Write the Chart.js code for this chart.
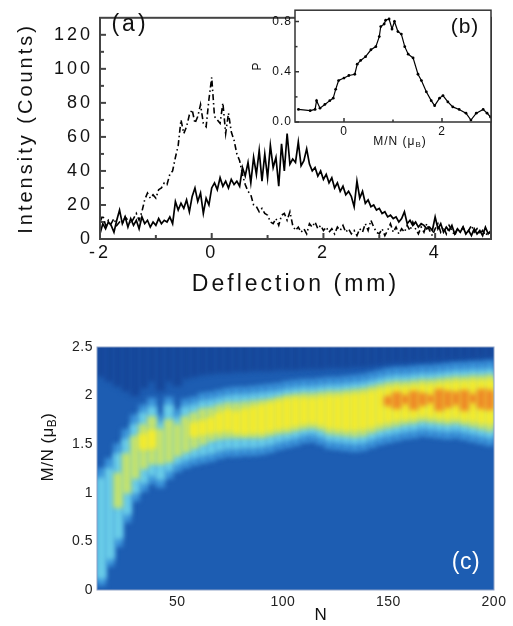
<!DOCTYPE html>
<html>
<head>
<meta charset="utf-8">
<script src="https://cdn.jsdelivr.net/npm/chart.js@4.4.1/dist/chart.umd.min.js"></script>
<style>
    body { margin: 0; background: #fff; width: 513px; height: 626px; position: relative; overflow: hidden; }
    canvas { position: absolute; }
    #panelA { left: 0; top: 0; width: 513px; height: 300px; }
    #panelB { left: 250px; top: 0; width: 263px; height: 155px; }
    #panelC { left: 0; top: 320px; width: 513px; height: 306px; }
</style>
</head>
<body>
<canvas id="panelA" width="513" height="300"></canvas>
<canvas id="panelB" width="263" height="155"></canvas>
<canvas id="panelC" width="513" height="306"></canvas>
<script>
// ---- panel (a): deflection profiles ----
const deflection = [
    -2, -1.95, -1.9, -1.85, -1.8, -1.75, -1.7, -1.65, -1.6, -1.55,
    -1.5, -1.45, -1.4, -1.35, -1.3, -1.25, -1.2, -1.15, -1.1, -1.05,
    -1, -0.95, -0.9, -0.85, -0.8, -0.75, -0.7, -0.65, -0.6, -0.55,
    -0.5, -0.45, -0.4, -0.35, -0.3, -0.25, -0.2, -0.15, -0.1, -0.05,
    0, 0.05, 0.1, 0.15, 0.2, 0.25, 0.3, 0.35, 0.4, 0.45,
    0.5, 0.55, 0.6, 0.65, 0.7, 0.75, 0.8, 0.85, 0.9, 0.95,
    1, 1.05, 1.1, 1.15, 1.2, 1.25, 1.3, 1.35, 1.4, 1.45,
    1.5, 1.55, 1.6, 1.65, 1.7, 1.75, 1.8, 1.85, 1.9, 1.95,
    2, 2.05, 2.1, 2.15, 2.2, 2.25, 2.3, 2.35, 2.4, 2.45,
    2.5, 2.55, 2.6, 2.65, 2.7, 2.75, 2.8, 2.85, 2.9, 2.95,
    3, 3.05, 3.1, 3.15, 3.2, 3.25, 3.3, 3.35, 3.4, 3.45,
    3.5, 3.55, 3.6, 3.65, 3.7, 3.75, 3.8, 3.85, 3.9, 3.95,
    4, 4.05, 4.1, 4.15, 4.2, 4.25, 4.3, 4.35, 4.4, 4.45,
    4.5, 4.55, 4.6, 4.65, 4.7, 4.75, 4.8, 4.85, 4.9, 4.95,
    5
];
const countsSolid = [
    3, 9, 6, 10, 8, 4, 11, 17, 9, 13,
    7, 12, 8, 11, 6, 13, 9, 11, 7, 10,
    8, 12, 9, 11, 10, 13, 9, 22, 17, 21,
    18, 23, 16, 25, 30, 22, 27, 15, 24, 20,
    30, 33, 29, 36, 31, 34, 30, 35, 32, 34,
    31, 42, 37, 45, 33, 48, 38, 52, 34, 50,
    36, 55, 42, 48, 31, 56, 40, 62, 44, 47,
    45, 57, 43, 46, 53, 44, 40, 42, 37, 40,
    35, 38, 33, 36, 30, 33, 28, 31, 26, 28,
    25, 19, 34, 24, 28, 21, 23, 19, 20, 17,
    18, 15, 16, 13, 14, 12, 13, 10, 12, 16,
    9, 11, 8, 10, 7, 9, 8, 6, 7, 5,
    13, 6, 9, 4, 7, 5, 8, 3, 6, 4,
    7, 3, 5, 2, 6, 3, 5, 2, 7, 3,
    5
];
const countsDashed = [
    10, 14, 8, 11, 9, 12, 8, 10, 9, 13,
    11, 9, 12, 15, 11, 16, 23, 27, 24, 26,
    24, 29, 30, 33, 32, 38, 40, 48, 55, 70,
    62, 66, 73, 76, 68, 72, 79, 68, 66, 82,
    95, 72, 70, 68, 80, 62, 74, 63, 58, 50,
    46, 38, 32, 28, 26, 20, 19, 16, 18, 15,
    14, 10, 9, 12, 8, 14, 15, 11, 16, 8,
    5, 7, 4, 6, 3, 9, 7, 10, 6, 8,
    5, 7, 4, 6, 3, 7, 5, 8, 4, 6,
    3, 5, 2, 6, 4, 9, 5, 11, 7, 4,
    3, 6, 2, 5, 9, 4, 7, 3, 6, 4,
    8, 5, 10, 6, 3, 7, 4, 9, 5, 2,
    6, 9, 4, 7, 3, 8, 5, 2, 6, 4,
    7, 3, 5, 8, 4, 6, 3, 5, 2, 4,
    3
];
const ticksA_x = [-2, 0, 2, 4];
const minorA_x = [-1, 1, 3];
const ticksA_y = [0, 20, 40, 60, 80, 100, 120];
const minorA_y = [10, 30, 50, 70, 90, 110];

// ---- panel (b): inset distribution ----
const insetMN = [
    -0.93, -0.69, -0.59, -0.56, -0.49, -0.39, -0.29, -0.22, -0.17, -0.11,
    0, 0.1, 0.22, 0.27, 0.34, 0.44, 0.55, 0.65, 0.72, 0.75,
    0.82, 0.85, 0.92, 0.98, 1.03, 1.1, 1.17, 1.24, 1.31, 1.41,
    1.51, 1.58, 1.68, 1.78, 1.85, 1.95, 2.02, 2.12, 2.22, 2.35,
    2.49, 2.59, 2.7, 2.84, 2.92, 2.99
];
const insetP = [
    0.1, 0.09, 0.1, 0.17, 0.11, 0.14, 0.17, 0.19, 0.26, 0.33,
    0.35, 0.37, 0.38, 0.46, 0.49, 0.52, 0.575, 0.6, 0.68, 0.76,
    0.78, 0.81, 0.82, 0.74, 0.8, 0.72, 0.7, 0.6, 0.54, 0.51,
    0.38, 0.33, 0.24, 0.17, 0.13, 0.19, 0.21, 0.16, 0.12, 0.1,
    0.07, 0.015, 0.07, 0.1, 0.07, 0.04
];
const ticksB_x = [0, 2];
const minorB_x = [1];
const ticksB_y = [0, 0.4, 0.8];
const minorB_y = [0.2, 0.6];

// ---- panel (c): M/N map vs N, read as colour band edges per column ----
const heatN = [
    14, 18, 22, 26, 30, 34, 38, 42, 46, 50,
    54, 58, 62, 66, 70, 74, 78, 82, 86, 90,
    94, 98, 102, 106, 110, 114, 118, 122, 126, 130,
    134, 138, 142, 146, 150, 154, 158, 162, 166, 170,
    174, 178, 182, 186, 190, 194, 198
];
const navyLo = [
    2.2, 2.15, 2.1, 2.05, 2.0, 2.08, 2.15, 2.05, 2.15, 2.1,
    2.18, 2.2, 2.22, 2.23, 2.24, 2.24, 2.25, 2.25, 2.26, 2.26,
    2.26, 2.27, 2.27, 2.27, 2.28, 2.28, 2.28, 2.29, 2.29, 2.29,
    2.3, 2.3, 2.31, 2.32, 2.33, 2.34, 2.34, 2.35, 2.35, 2.36,
    2.36, 2.37, 2.37, 2.38, 2.38, 2.39, 2.39
];
const blueLo = [
    0.05, 0.25, 0.45, 0.7, 0.92, 1.02, 1.1, 1.06, 1.15, 1.22,
    1.26, 1.29, 1.31, 1.33, 1.36, 1.38, 1.38, 1.39, 1.39, 1.4,
    1.42, 1.45, 1.47, 1.49, 1.52, 1.53, 1.5, 1.46, 1.45, 1.44,
    1.43, 1.44, 1.47, 1.5, 1.52, 1.54, 1.56, 1.57, 1.59, 1.58,
    1.57, 1.56, 1.57, 1.55, 1.53, 1.51, 1.49
];
const blueHi = [
    1.25, 1.35, 1.5, 1.65, 1.8, 1.9, 1.97, 1.8, 1.98, 1.85,
    1.96, 1.98, 2.02, 2.03, 2.05, 2.07, 2.08, 2.08, 2.09, 2.1,
    2.11, 2.12, 2.14, 2.15, 2.16, 2.16, 2.17, 2.18, 2.18, 2.19,
    2.2, 2.21, 2.23, 2.25, 2.27, 2.28, 2.28, 2.29, 2.3, 2.3,
    2.31, 2.32, 2.33, 2.33, 2.34, 2.34, 2.35
];
const cyanLo = [
    0.12, 0.32, 0.53, 0.78, 1.0, 1.1, 1.18, 1.14, 1.23, 1.3,
    1.34, 1.37, 1.39, 1.41, 1.44, 1.46, 1.46, 1.47, 1.47, 1.48,
    1.5, 1.53, 1.55, 1.57, 1.6, 1.61, 1.58, 1.54, 1.53, 1.52,
    1.51, 1.52, 1.55, 1.58, 1.6, 1.62, 1.64, 1.65, 1.67, 1.66,
    1.65, 1.64, 1.65, 1.63, 1.61, 1.59, 1.57
];
const cyanHi = [
    1.15, 1.25, 1.4, 1.55, 1.7, 1.82, 1.88, 1.72, 1.9, 1.77,
    1.88, 1.9, 1.94, 1.95, 1.97, 1.99, 2.0, 2.0, 2.01, 2.02,
    2.03, 2.04, 2.06, 2.07, 2.08, 2.08, 2.09, 2.1, 2.1, 2.11,
    2.12, 2.13, 2.15, 2.17, 2.19, 2.2, 2.2, 2.21, 2.22, 2.22,
    2.23, 2.24, 2.25, 2.25, 2.26, 2.26, 2.27
];
const paleLo = [
    null, null, 0.85, 1.0, 1.15, 1.25, 1.3, 1.3, 1.32, 1.38,
    1.42, 1.46, 1.5, 1.54, 1.56, 1.57, 1.57, 1.57, 1.57, 1.57,
    1.59, 1.61, 1.62, 1.64, 1.66, 1.67, 1.65, 1.61, 1.6, 1.59,
    1.58, 1.59, 1.62, 1.65, 1.67, 1.69, 1.71, 1.72, 1.74, 1.73,
    1.72, 1.71, 1.72, 1.7, 1.68, 1.66, 1.64
];
const paleHi = [
    null, null, 1.2, 1.4, 1.58, 1.7, 1.78, 1.65, 1.75, 1.7,
    1.78, 1.82, 1.86, 1.87, 1.9, 1.92, 1.92, 1.93, 1.94, 1.95,
    1.96, 1.98, 2.0, 2.01, 2.02, 2.02, 2.03, 2.04, 2.04, 2.05,
    2.06, 2.07, 2.09, 2.11, 2.13, 2.14, 2.14, 2.15, 2.16, 2.16,
    2.17, 2.18, 2.19, 2.19, 2.2, 2.2, 2.21
];
const yellowLo = [
    null, null, null, null, null, 1.45, 1.46, null, null, null,
    null, 1.58, 1.6, 1.62, 1.63, 1.64, 1.62, 1.61, 1.62, 1.62,
    1.64, 1.66, 1.67, 1.69, 1.71, 1.72, 1.7, 1.67, 1.66, 1.65,
    1.65, 1.66, 1.68, 1.71, 1.73, 1.75, 1.76, 1.77, 1.79, 1.78,
    1.77, 1.76, 1.77, 1.75, 1.74, 1.72, 1.71
];
const yellowHi = [
    null, null, null, null, null, 1.6, 1.64, null, null, null,
    null, 1.72, 1.74, 1.77, 1.82, 1.85, 1.83, 1.86, 1.88, 1.9,
    1.92, 1.94, 1.96, 1.97, 1.97, 1.97, 1.98, 1.99, 1.99, 2.0,
    2.01, 2.02, 2.04, 2.06, 2.08, 2.09, 2.09, 2.1, 2.11, 2.11,
    2.12, 2.13, 2.14, 2.14, 2.15, 2.15, 2.16
];
const orangeLo = [
    null, null, null, null, null, null, null, null, null, null,
    null, null, null, null, null, null, null, null, null, null,
    null, null, null, null, null, null, null, null, null, null,
    null, null, null, null, 1.9, 1.87, 1.92, 1.86, 1.9, 1.93,
    1.85, 1.88, 1.91, 1.85, 1.93, 1.87, 1.86
];
const orangeHi = [
    null, null, null, null, null, null, null, null, null, null,
    null, null, null, null, null, null, null, null, null, null,
    null, null, null, null, null, null, null, null, null, null,
    null, null, null, null, 1.99, 2.03, 2.0, 2.04, 2.02, 2.0,
    2.06, 2.04, 2.03, 2.05, 2.01, 2.06, 2.05
];
const heatTop = 2.62;
const ticksC_x = [50, 100, 150, 200];
const ticksC_y = [0, 0.5, 1, 1.5, 2, 2.5];

const FONT = '"Liberation Sans", Arial, Helvetica, sans-serif';
Chart.defaults.font.family = FONT;
Chart.defaults.color = "#111";

// frame, inward ticks, free text (with subscripts) and background fill
const panelDeco = {
    id: "panelDeco",
    beforeDraw(chart, args, opts) {
        const ctx = chart.ctx;
        ctx.letterSpacing = opts.spacing || "0px";
        if (opts.fill) {
            const a = chart.chartArea;
            ctx.save();
            ctx.fillStyle = opts.fill;
            ctx.fillRect(a.left, a.top, a.right - a.left, a.bottom - a.top);
            ctx.restore();
        }
    },
    beforeDatasetsDraw(chart, args, opts) {
        if (opts.blur) {
            chart.ctx.save();
            chart.ctx.filter = "blur(" + opts.blur + "px)";
        }
    },
    afterDatasetsDraw(chart, args, opts) {
        if (opts.blur) chart.ctx.restore();
    },
    afterDraw(chart, args, opts) {
        const ctx = chart.ctx;
        const a = chart.chartArea;
        const sx = chart.scales.x, sy = chart.scales.y;
        ctx.save();
        ctx.strokeStyle = opts.frameColor || "#333";
        ctx.lineWidth = opts.frameWidth || 1;
        (opts.ticks || []).forEach(t => {
            const len = t.len;
            t.values.forEach(v => {
                ctx.beginPath();
                if (t.axis === "x") {
                    const px = sx.getPixelForValue(v);
                    ctx.moveTo(px, a.bottom);
                    ctx.lineTo(px, a.bottom - len);
                } else {
                    const py = sy.getPixelForValue(v);
                    ctx.moveTo(a.left, py);
                    ctx.lineTo(a.left + len, py);
                }
                ctx.stroke();
            });
        });
        if (opts.frameWidth) {
            ctx.strokeRect(a.left, a.top, a.right - a.left, a.bottom - a.top);
        }
        ctx.restore();

        (opts.texts || []).forEach(item => {
            ctx.save();
            ctx.translate(item.x, item.y);
            if (item.rot) ctx.rotate(item.rot);
            ctx.fillStyle = item.color || "#111";
            ctx.textBaseline = "middle";
            ctx.textAlign = "left";
            let total = 0;
            item.parts.forEach(p => {
                ctx.font = p.size + "px " + FONT;
                p.w = ctx.measureText(p.s).width;
                total += p.w;
            });
            let x = -total / 2;
            item.parts.forEach(p => {
                ctx.font = p.size + "px " + FONT;
                ctx.fillText(p.s, x, p.dy || 0);
                x += p.w;
            });
            ctx.restore();
        });
    }
};

function fixedTicks(values) {
    return scale => { scale.ticks = values.map(v => ({ value: v })); };
}

// ---- chart (a)
new Chart(document.getElementById("panelA"), {
    type: "line",
    data: {
        datasets: [
            {
                data: deflection.map((x, i) => ({ x: x, y: countsSolid[i] })),
                borderColor: "#000",
                borderWidth: 1.7,
                pointRadius: 0,
                tension: 0
            },
            {
                data: deflection.map((x, i) => ({ x: x, y: countsDashed[i] })),
                borderColor: "#000",
                borderWidth: 1.6,
                borderDash: [6, 3, 1.5, 3],
                pointRadius: 0,
                tension: 0
            }
        ]
    },
    options: {
        responsive: false,
        animation: false,
        layout: { padding: { left: 0, top: 5, right: 22, bottom: 0 } },
        plugins: {
            legend: { display: false },
            tooltip: { enabled: false },
            panelDeco: {
                spacing: "3px",
                frameWidth: 2,
                frameColor: "#444",
                ticks: [
                    { axis: "x", values: ticksA_x, len: 6 },
                    { axis: "x", values: minorA_x, len: 4 },
                    { axis: "y", values: ticksA_y, len: 6 },
                    { axis: "y", values: minorA_y, len: 4 }
                ],
                texts: [{ x: 130, y: 25, parts: [{ s: "(a)", size: 23 }] }]
            }
        },
        scales: {
            x: {
                type: "linear",
                min: -2,
                max: 5,
                afterBuildTicks: fixedTicks(ticksA_x),
                afterFit: s => { s.height = 61; },
                grid: { display: false, drawTicks: false },
                border: { display: false },
                ticks: { font: { size: 18 }, color: "#111", padding: 3 },
                title: { display: true, text: "Deflection (mm)", font: { size: 23 }, color: "#111", padding: { top: 0, bottom: 2 } }
            },
            y: {
                min: 0,
                max: 130,
                afterBuildTicks: fixedTicks(ticksA_y),
                afterFit: s => { s.width = 100; },
                grid: { display: false, drawTicks: false },
                border: { display: false },
                ticks: { font: { size: 18 }, color: "#111", padding: 7 },
                title: { display: true, text: "Intensity (Counts)", font: { size: 20 }, color: "#111", padding: { top: 14, bottom: 0 } }
            }
        }
    },
    plugins: [panelDeco]
});

// ---- chart (b) inset
new Chart(document.getElementById("panelB"), {
    type: "line",
    data: {
        datasets: [{
            data: insetMN.map((x, i) => ({ x: x, y: insetP[i] })),
            borderColor: "#000",
            borderWidth: 1.2,
            pointRadius: 1.4,
            pointBackgroundColor: "#000",
            pointBorderWidth: 0,
            tension: 0
        }]
    },
    options: {
        responsive: false,
        animation: false,
        layout: { padding: { left: 0, top: 5, right: 22, bottom: 0 } },
        plugins: {
            legend: { display: false },
            tooltip: { enabled: false },
            panelDeco: {
                spacing: "1px",
                fill: "#fff",
                frameWidth: 1.5,
                frameColor: "#333",
                ticks: [
                    { axis: "x", values: ticksB_x, len: 4 },
                    { axis: "x", values: minorB_x, len: 2.5 },
                    { axis: "y", values: ticksB_y, len: 4 },
                    { axis: "y", values: minorB_y, len: 2.5 }
                ],
                texts: [
                    { x: 215, y: 27, parts: [{ s: "(b)", size: 21 }] },
                    { x: 150, y: 142, parts: [{ s: "M/N (\u03bc", size: 12 }, { s: "B", size: 8, dy: 3 }, { s: ")", size: 12 }] }
                ]
            }
        },
        scales: {
            x: {
                type: "linear",
                min: -1,
                max: 3,
                afterBuildTicks: fixedTicks(ticksB_x),
                afterFit: s => { s.height = 33; },
                grid: { display: false, drawTicks: false },
                border: { display: false },
                ticks: { font: { size: 12 }, color: "#111", padding: 2 }
            },
            y: {
                min: 0,
                max: 0.89,
                afterBuildTicks: fixedTicks(ticksB_y),
                afterFit: s => { s.width = 45; },
                grid: { display: false, drawTicks: false },
                border: { display: false },
                ticks: { font: { size: 12 }, color: "#111", padding: 3, callback: v => v.toFixed(1) },
                title: { display: true, text: "P", font: { size: 12 }, color: "#111", padding: { top: 0, bottom: 0 } }
            }
        }
    },
    plugins: [panelDeco]
});

// ---- chart (c) map
function band(lo, hi, color) {
    const pts = [];
    heatN.forEach((n, i) => {
        if (lo[i] == null) return;
        pts.push({ x: n, y: [lo[i], Array.isArray(hi) ? hi[i] : hi] });
    });
    return {
        data: pts,
        backgroundColor: color,
        borderWidth: 0,
        barPercentage: 1,
        categoryPercentage: 1,
        grouped: false,
        inflateAmount: 0.6
    };
}

new Chart(document.getElementById("panelC"), {
    type: "bar",
    data: {
        datasets: [
            band(orangeLo, orangeHi, "#ee8a28"),
            band(yellowLo, yellowHi, "#f3eb2e"),
            band(paleLo, paleHi, "#c3e26e"),
            band(cyanLo, cyanHi, "#6acde8"),
            band(blueLo, blueHi, "#3e97dc"),
            band(navyLo, heatTop, "#16479a")
        ]
    },
    options: {
        responsive: false,
        animation: false,
        layout: { padding: { left: 0, top: 27, right: 19, bottom: 0 } },
        plugins: {
            legend: { display: false },
            tooltip: { enabled: false },
            panelDeco: {
                spacing: "0.5px",
                fill: "#1d5db2",
                blur: 2.5,
                frameWidth: 1,
                frameColor: "#8fa3c8",
                texts: [
                    { x: 466, y: 243, color: "#fff", parts: [{ s: "(c)", size: 23 }] },
                    { x: 48, y: 127, rot: -Math.PI / 2, parts: [{ s: "M/N (\u03bc", size: 17 }, { s: "B", size: 12, dy: 5 }, { s: ")", size: 17 }] },
                    { x: 321, y: 295, parts: [{ s: "N", size: 17 }] }
                ]
            }
        },
        scales: {
            x: {
                type: "linear",
                min: 12,
                max: 200,
                offset: false,
                afterBuildTicks: fixedTicks(ticksC_x),
                afterFit: s => { s.height = 36; },
                grid: { display: false, drawTicks: false },
                border: { display: false },
                ticks: { font: { size: 14 }, color: "#222", padding: 4 }
            },
            y: {
                min: 0,
                max: 2.5,
                afterBuildTicks: fixedTicks(ticksC_y),
                afterFit: s => { s.width = 97; },
                grid: { display: false, drawTicks: false },
                border: { display: false },
                ticks: { font: { size: 14 }, color: "#222", padding: 4, callback: v => String(v) }
            }
        }
    },
    plugins: [panelDeco]
});
</script>
</body>
</html>
